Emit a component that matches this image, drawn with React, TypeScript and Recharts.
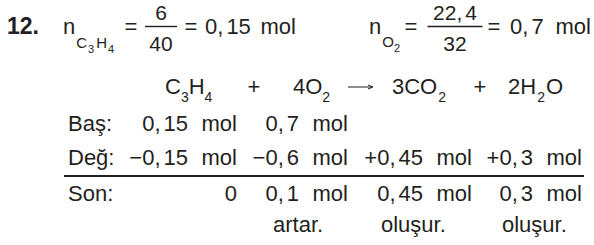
import React from 'react';
import { ComposedChart, Customized } from 'recharts';

// stoichiometry table for C3H4 + 4O2 -> 3CO2 + 2H2O
const rowLabels = ['Baş:', 'Değ:', 'Son:'];
const basValues = ['0,15 mol', '0,7 mol', '', ''];
const degValues = ['−0,15 mol', '−0,6 mol', '+0,45 mol', '+0,3 mol'];
const sonValues = ['0', '0,1 mol', '0,45 mol', '0,3 mol'];
const notes = ['', 'artar.', 'oluşur.', 'oluşur.'];

// mole calculations at the top
const molC3H4 = { num: '6', den: '40', result: '0,15 mol' };
const molO2 = { num: '22,4', den: '32', result: '0,7 mol' };

const FONT = '"Liberation Sans", Arial, Helvetica, sans-serif';
const INK = '#231f20';
const FS = 22;

// layout
const colRight = [237, 348, 472, 582];
const noteX = [0, 273, 381, 502];
const rowY = [131, 165, 201];
const labelX = 68;

// number with a thin gap after the comma
const Num = ({ x, y, text, anchor = 'end', size = FS }: { x: number; y: number; text: string; anchor?: string; size?: number }) => {
  const [a, b] = text.split(',');
  return (
    <text x={x} y={y} textAnchor={anchor} fontSize={size} fill={INK}>
      {b === undefined ? a : (
        <>
          <tspan>{a},</tspan>
          <tspan dx={3}>{b}</tspan>
        </>
      )}
    </text>
  );
};

// value like "0,15 mol": unit at right edge, number before it
const Cell = ({ right, y, value }: { right: number; y: number; value: string }) => {
  if (!value) return null;
  const [n, unit] = value.split(' ');
  if (!unit) return <Num x={right} y={y} text={n} />;
  return (
    <g>
      <Num x={right - 49} y={y} text={n} />
      <text x={right} y={y} textAnchor="end" fontSize={FS} fill={INK}>{unit}</text>
    </g>
  );
};

// result on the top line: number starts at left, unit ends at right
const Result = ({ left, right, value }: { left: number; right: number; value: string }) => {
  const [n, unit] = value.split(' ');
  return (
    <g>
      <Num x={left} y={34} text={n} anchor="start" />
      <text x={right} y={34} textAnchor="end" fontSize={FS} fill={INK}>{unit}</text>
    </g>
  );
};

const Frac = ({ cx, num, den, w }: { cx: number; num: string; den: string; w: number }) => (
  <g>
    <Num x={cx} y={19.5} text={num} anchor="middle" size={21} />
    <line x1={cx - w / 2} x2={cx + w / 2} y1={26.5} y2={26.5} stroke={INK} strokeWidth={1.4} />
    <text x={cx} y={51} textAnchor="middle" fontSize={21} fill={INK}>{den}</text>
  </g>
);

const Sheet = () => (
  <g fontFamily={FONT}>
    <text x={7} y={34} fontSize={23} fontWeight="bold" fill={INK}>12.</text>

    {/* n(C3H4) */}
    <text x={63} y={34} fontSize={FS} fill={INK}>
      n
      <tspan dx={1} dy={14} fontSize={15}>C</tspan>
      <tspan dx={1} dy={5} fontSize={11}>3</tspan>
      <tspan dx={2} dy={-5} fontSize={15}>H</tspan>
      <tspan dx={1} dy={5} fontSize={11}>4</tspan>
    </text>
    <text x={131} y={34} textAnchor="middle" fontSize={FS} fill={INK}>=</text>
    <Frac cx={161} num={molC3H4.num} den={molC3H4.den} w={32} />
    <text x={191} y={34} textAnchor="middle" fontSize={FS} fill={INK}>=</text>
    <Result left={205} right={296} value={molC3H4.result} />

    {/* n(O2) */}
    <text x={369} y={34} fontSize={FS} fill={INK}>
      n
      <tspan dx={1} dy={13} fontSize={15}>O</tspan>
      <tspan dx={0} dy={5} fontSize={11}>2</tspan>
    </text>
    <text x={411} y={34} textAnchor="middle" fontSize={FS} fill={INK}>=</text>
    <Frac cx={455} num={molO2.num} den={molO2.den} w={55} />
    <text x={494} y={34} textAnchor="middle" fontSize={FS} fill={INK}>=</text>
    <Result left={510} right={591} value={molO2.result} />

    {/* equation */}
    <text x={165} y={94} fontSize={FS} fill={INK}>
      C<tspan dy={8} fontSize={14}>3</tspan>
      <tspan dy={-8}>H</tspan>
      <tspan dy={8} fontSize={14}>4</tspan>
    </text>
    <text x={254} y={94} textAnchor="middle" fontSize={FS} fill={INK}>+</text>
    <text x={293} y={94} fontSize={FS} fill={INK}>
      4O<tspan dy={8} fontSize={14}>2</tspan>
    </text>
    <line x1={348} x2={372} y1={87} y2={87} stroke={INK} strokeWidth={1} />
    <path d="M368,85 L373,87 L368,89" fill="none" stroke={INK} strokeWidth={1} />
    <text x={392} y={94} fontSize={FS} fill={INK}>
      3CO<tspan dx={1} dy={8} fontSize={14}>2</tspan>
    </text>
    <text x={480} y={94} textAnchor="middle" fontSize={FS} fill={INK}>+</text>
    <text x={508} y={94} fontSize={FS} fill={INK}>
      2H<tspan dx={1} dy={8} fontSize={14}>2</tspan>
      <tspan dx={1} dy={-8}>O</tspan>
    </text>

    {/* table */}
    {rowLabels.map((l, i) => (
      <text key={l} x={labelX} y={rowY[i]} fontSize={FS} fill={INK}>{l}</text>
    ))}
    {basValues.map((v, i) => <Cell key={'b' + i} right={colRight[i]} y={rowY[0]} value={v} />)}
    {degValues.map((v, i) => <Cell key={'d' + i} right={colRight[i]} y={rowY[1]} value={v} />)}
    <line x1={64} x2={584} y1={176} y2={176} stroke={INK} strokeWidth={2.2} />
    {sonValues.map((v, i) => <Cell key={'s' + i} right={colRight[i]} y={rowY[2]} value={v} />)}
    {notes.map((n, i) => n ? (
      <text key={'n' + i} x={noteX[i]} y={232} fontSize={FS} fill={INK}>{n}</text>
    ) : null)}
  </g>
);

export default function App() {
  return (
    <div style={{ position: 'absolute', left: 0, top: 0, width: 594, height: 245, background: '#fff' }}>
      <ComposedChart width={594} height={245} data={[]} margin={{ top: 0, right: 0, bottom: 0, left: 0 }}>
        <Customized component={<Sheet />} />
      </ComposedChart>
    </div>
  );
}
